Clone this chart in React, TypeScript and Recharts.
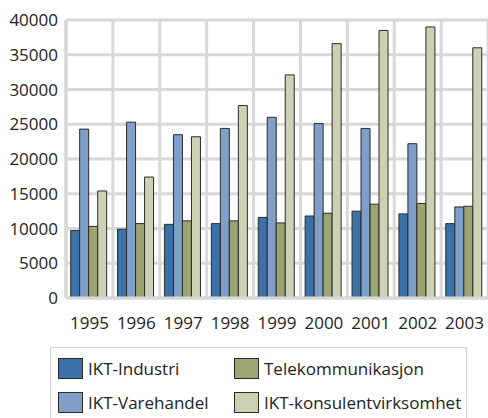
import { Bar, BarChart, CartesianGrid, XAxis, YAxis } from 'recharts'

// IKT-sektoren, årlige tall 1995–2003 (lest av figuren)
const years = ['1995', '1996', '1997', '1998', '1999', '2000', '2001', '2002', '2003']
const industri = [9700, 9900, 10600, 10700, 11600, 11800, 12500, 12100, 10700]
const varehandel = [24300, 25300, 23500, 24400, 26000, 25100, 24400, 22200, 13100]
const telekom = [10300, 10700, 11100, 11100, 10800, 12200, 13500, 13600, 13200]
const konsulent = [15400, 17400, 23200, 27700, 32100, 36600, 38500, 39000, 36000]
const yTicks = [0, 5000, 10000, 15000, 20000, 25000, 30000, 35000, 40000]

const series = [
	{ key: 'industri', name: 'IKT-Industri', color: '#3a72a7', values: industri },
	{ key: 'varehandel', name: 'IKT-Varehandel', color: '#7f9fc8', values: varehandel },
	{ key: 'telekom', name: 'Telekommunikasjon', color: '#9da372', values: telekom },
	{ key: 'konsulent', name: 'IKT-konsulentvirksomhet', color: '#cdd1b3', values: konsulent }
]

const data = years.map((year, i) => {
	const row: Record<string, string | number> = { year }
	series.forEach((s) => {
		row[s.key] = s.values[i]
	})
	return row
})

const FONT = '"Open Sans", sans-serif'
const GRID = '#d8d8d8'

// vertical grid lines sit on the category boundaries, not the centres
function boundaryLines({ offset }: { offset: { left: number; width: number } }) {
	const step = offset.width / years.length
	return years.map((_, i) => offset.left + i * step).concat(offset.left + offset.width)
}

function LegendBox() {
	// legend order: column-wise, two rows
	const order = [series[0], series[2], series[1], series[3]]
	return (
		<div
			style={{
				position: 'absolute',
				left: 50,
				top: 347,
				width: 417,
				height: 90,
				border: '1px solid #d4d4d4',
				boxSizing: 'border-box',
				fontFamily: FONT,
				fontSize: 17,
				color: '#222'
			}}
		>
			{order.map((s, i) => {
				const col = i % 2
				const row = Math.floor(i / 2)
				return (
					<div
						key={s.key}
						style={{
							position: 'absolute',
							left: col === 0 ? 7 : 183,
							top: 9 + row * 34,
							display: 'flex',
							alignItems: 'center',
							whiteSpace: 'nowrap'
						}}
					>
						<span
							style={{
								display: 'inline-block',
								width: 23,
								height: 19,
								background: s.color,
								border: '1px solid #2a2a2a',
								marginRight: 5
							}}
						/>
						<span>{s.name}</span>
					</div>
				)
			})}
		</div>
	)
}

export default function App() {
	return (
		<div style={{ position: 'absolute', left: 0, top: 0, width: 488, height: 418, overflow: 'hidden', background: '#fff' }}>
			<BarChart
				width={488}
				height={340}
				data={data}
				margin={{ top: 20, right: 0, bottom: 0, left: 0 }}
				barCategoryGap="10%"
				barGap={0}
			>
				<CartesianGrid
					stroke={GRID}
					strokeWidth={3}
					verticalCoordinatesGenerator={boundaryLines}
				/>
				<XAxis
					dataKey="year"
					height={42}
					axisLine={{ stroke: GRID, strokeWidth: 3 }}
					tickLine={false}
					tickSize={0}
					tickMargin={19}
					interval={0}
					tick={{ fontSize: 17, fontFamily: FONT, fill: '#222' }}
				/>
				<YAxis
					width={66}
					domain={[0, 40000]}
					ticks={yTicks}
					axisLine={{ stroke: GRID, strokeWidth: 3 }}
					tickLine={false}
					tickSize={6}
					tickMargin={2}
					tick={{ fontSize: 17, fontFamily: FONT, fill: '#222' }}
				/>
				{series.map((s) => (
					<Bar
						key={s.key}
						dataKey={s.key}
						name={s.name}
						fill={s.color}
						stroke="#2a2a2a"
						strokeWidth={1}
						isAnimationActive={false}
					/>
				))}
			</BarChart>
			<LegendBox />
		</div>
	)
}
